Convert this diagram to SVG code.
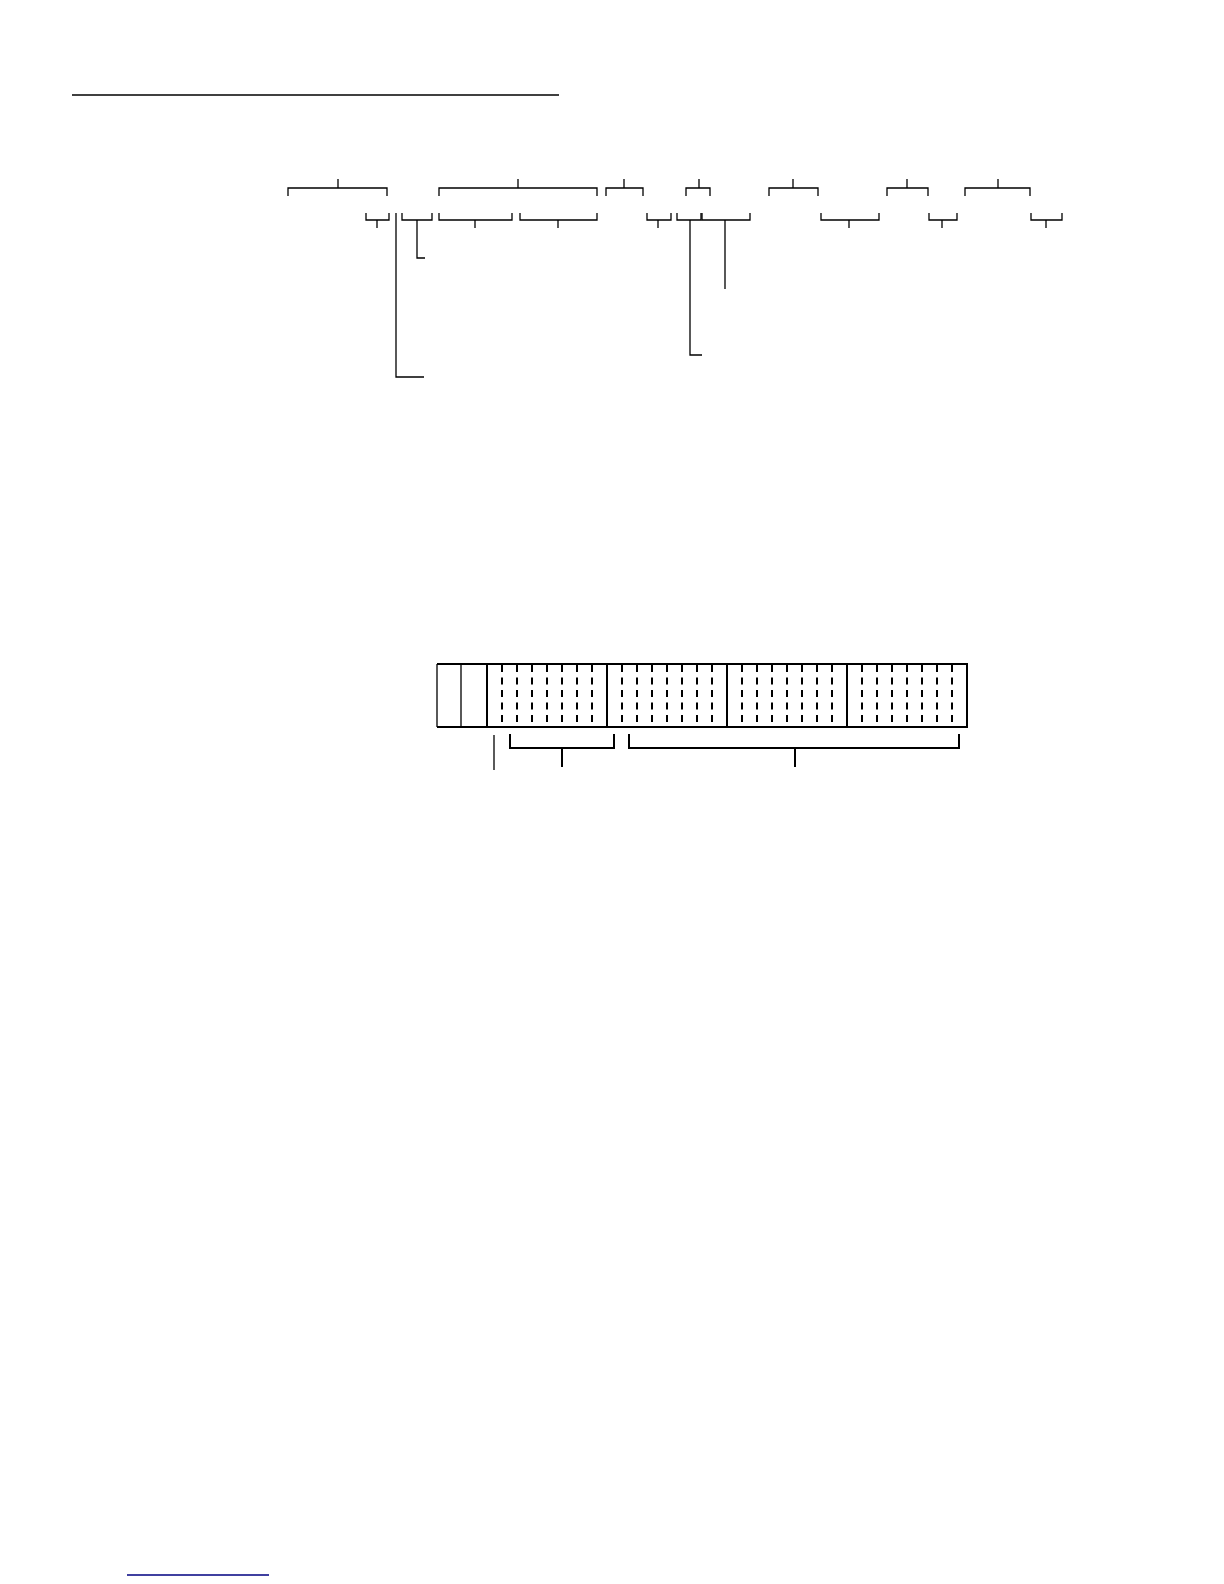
<svg xmlns="http://www.w3.org/2000/svg" width="1224" height="1584" viewBox="0 0 1224 1584">
<style>
.l{fill:none;stroke:#000;stroke-width:1.3}
.t{fill:none;stroke:#000;stroke-width:2}
.h{fill:none;stroke:#000;stroke-width:1.3}
.d{fill:none;stroke:#000;stroke-width:2;stroke-dasharray:7 5.5}
</style>
<rect width="1224" height="1584" fill="#fff"/>
<line x1="72" y1="95" x2="559" y2="95" stroke="#000" stroke-width="1.5"/>
<line x1="127" y1="1575" x2="269" y2="1575" stroke="#000080" stroke-width="1.5"/>
<g id="top-brackets">
<path class="l" d="M288,196V188H387V196M338,188V179"/>
<path class="l" d="M439,196V188H597V196M518,188V179"/>
<path class="l" d="M606,196V188H643V196M624,188V179"/>
<path class="l" d="M686,196V188H710V196M699,188V179"/>
<path class="l" d="M769,196V188H818V196M793,188V179"/>
<path class="l" d="M887,196V188H928V196M907,188V179"/>
<path class="l" d="M965,196V188H1030V196M998,188V179"/>
</g>
<g id="lower-brackets">
<path class="l" d="M366,213V220H389V213M377,220V228"/>
<path class="l" d="M402,213V220H432V213M417,220V258H425"/>
<path class="l" d="M439,213V220H512V213M475,220V228"/>
<path class="l" d="M520,213V220H597V213M558,220V228"/>
<path class="l" d="M647,213V220H671V213M658,220V228"/>
<path class="l" d="M677,213V220H701V213M690,220V355H702"/>
<path class="l" d="M702,213V220H750V213M725,220V289"/>
<path class="l" d="M821,213V220H879V213M849,220V228"/>
<path class="l" d="M929,213V220H957V213M942,220V228"/>
<path class="l" d="M1031,213V220H1062V213M1046,220V228"/>
<path class="l" d="M396,213V377H424"/>
</g>
<g id="register">
<path class="h" d="M437,664V727M461,664V727"/>
<path class="t" d="M437,664H967V727H437M487,664V727M607,664V727M727,664V727M847,664V727"/>
<g class="d">
<path d="M502,665V727M517,665V727M532,665V727M547,665V727M562,665V727M577,665V727M592,665V727"/>
<path d="M622,665V727M637,665V727M652,665V727M667,665V727M682,665V727M697,665V727M712,665V727"/>
<path d="M742,665V727M757,665V727M772,665V727M787,665V727M802,665V727M817,665V727M832,665V727"/>
<path d="M862,665V727M877,665V727M892,665V727M907,665V727M922,665V727M937,665V727M952,665V727"/>
</g>
</g>
<g id="register-brackets">
<path class="h" d="M494,735V770"/>
<path class="t" d="M510,734V748H614V734M562,748V767"/>
<path class="t" d="M629,734V748H959V734M795,748V767"/>
</g>
</svg>
